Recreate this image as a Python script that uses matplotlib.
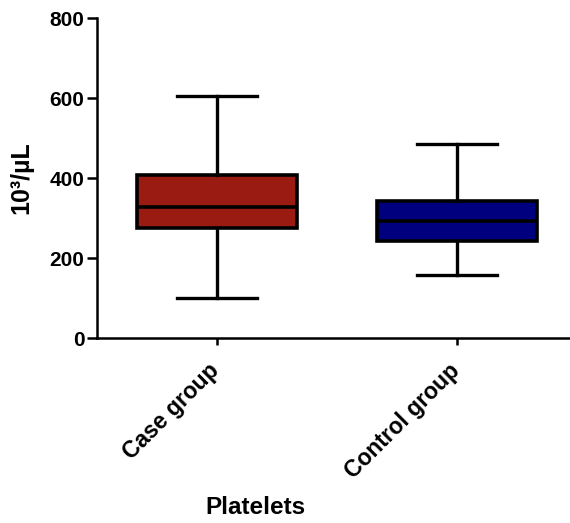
import numpy as np
import matplotlib
matplotlib.use('Agg')
import matplotlib.pyplot as plt
from matplotlib.transforms import ScaledTranslation

### Data, 10^3/uL
groups= ['Case group','Control group']
wlo= [100, 157]
q1= [276, 242]
med= [327, 292]
q3= [407, 342]
whi= [605, 485]
box_colors= ['#9a1b12','#00007f']

def main():
    stats=[]
    for i,g in enumerate(groups):
        stats.append(dict(label=g,whislo=wlo[i],q1=q1[i],med=med[i],q3=q3[i],whishi=whi[i],fliers=[]))

    plt.rcParams['font.family']= ['Liberation Sans','DejaVu Sans']
    plt.rcParams['font.weight']= 'bold'

    fig= plt.figure(figsize=(5.7,5.23),dpi=100)
    ax= fig.add_axes([97/570, 1-338/523, 1-97/570, 320/523])

    bp= ax.bxp(stats,positions=[1,2],widths=0.667,patch_artist=True,showfliers=False,
               boxprops=dict(lw=2.6,edgecolor='k'),
               medianprops=dict(color='k',lw=2.6),
               whiskerprops=dict(color='k',lw=2.4),
               capprops=dict(color='k',lw=2.4))
    for p,c in zip(bp['boxes'],box_colors):
        p.set_facecolor(c)

    ax.set_xlim(0.5,2.47)
    ax.set_ylim(0,800)
    ax.set_yticks([0,200,400,600,800])
    ax.spines['top'].set_visible(False)
    ax.spines['right'].set_visible(False)
    for s in ['left','bottom']:
        ax.spines[s].set_linewidth(1.8)
        ax.spines[s].set_clip_on(False)
    ax.tick_params(axis='y',length=7,width=1.8,labelsize=15,pad=2)
    ax.tick_params(axis='x',length=5,width=1.8,labelsize=16.5,pad=10)
    ax.set_xticklabels(groups,rotation=45,ha='right',rotation_mode='anchor',fontweight='bold')
    shift= ScaledTranslation(-9/100,0,fig.dpi_scale_trans)
    for t in ax.get_xticklabels():
        t.set_transform(t.get_transform()+shift)
    for t in ax.get_yticklabels():
        t.set_fontweight('bold')

    ax.set_ylabel('10³/µL',fontsize=18,fontweight='bold',labelpad=12)
    ax.set_xlabel('Platelets',fontsize=17.5,fontweight='bold',va='center')
    ax.xaxis.set_label_coords(0.336,-0.53)

    fig.savefig('out.png',dpi=100)
    return

if __name__ == "__main__":
    main()
